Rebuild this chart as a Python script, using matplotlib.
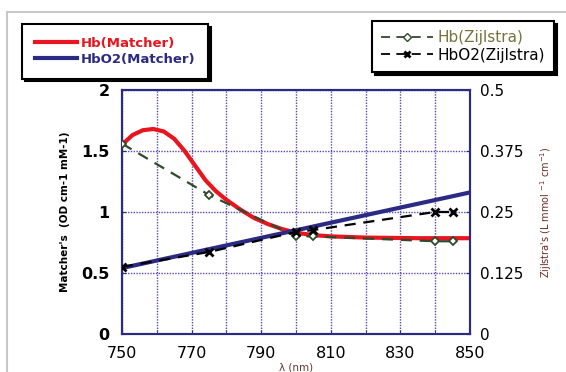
import matplotlib
matplotlib.use('Agg')
import matplotlib.pyplot as plt
from matplotlib.lines import Line2D

# Matcher curves (left axis, OD cm-1 mM-1)
wl_hb = [750, 753, 756, 759, 762, 765, 768, 771, 774, 777, 780, 784, 788, 792,
         796, 800, 805, 810, 820, 835, 850]
hb_matcher = [1.55, 1.63, 1.67, 1.68, 1.66, 1.60, 1.50, 1.38, 1.26, 1.17, 1.10,
              1.02, 0.95, 0.90, 0.86, 0.83, 0.81, 0.80, 0.79, 0.785, 0.785]
wl_hbo2 = [750, 800, 850]
hbo2_matcher = [0.54, 0.85, 1.16]

# Zijlstra points (right axis, L mmol-1 cm-1)
wl_zij = [750, 775, 800, 805, 840, 845]
hb_zij = [0.39, 0.285, 0.20, 0.20, 0.19, 0.19]
hbo2_zij = [0.1375, 0.168, 0.209, 0.213, 0.25, 0.25]

right_ticks = [0, 0.125, 0.25, 0.375, 0.5]
right_labels = ['0', '0.125', '0.25', '0.375', '0.5']

navy = '#2b2b85'
red = '#e8141e'
green = '#2f4a2c'
olive = '#74743c'

fig = plt.figure(figsize=(5.66, 3.72), dpi=100)
ax = fig.add_axes([0.2155, 0.1022, 0.6148, 0.656])
ax2 = ax.twinx()

ax.plot(wl_hb, hb_matcher, color=red, lw=3, solid_capstyle='butt', zorder=3)
ax.plot(wl_hbo2, hbo2_matcher, color=navy, lw=3, zorder=3)

ax2.plot(wl_zij, hb_zij, color=green, lw=1.6, ls=(0, (5, 3.5)), marker='D', ms=4,
         mfc='white', mec=green, mew=1.3, zorder=4)
ax2.plot(wl_zij, hbo2_zij, color='black', lw=1.6, ls=(0, (5, 3.5)), marker='x', ms=6,
         mew=2, zorder=4)

ax.set_xlim(750, 850)
ax.set_ylim(0, 2)
ax2.set_ylim(0, 0.5)
ax.set_xticks(range(750, 851, 20))
ax.set_xticks(range(750, 851, 10), minor=True)
ax.set_yticks([0, 0.5, 1, 1.5, 2])
ax.set_yticklabels(['0', '0.5', '1', '1.5', '2'])
ax2.set_yticks(right_ticks)
ax2.set_yticklabels(right_labels)

ax.grid(True, which='both', color='#5a48b0', ls=(0, (1, 1)), lw=1)
ax.set_axisbelow(True)
for a in (ax, ax2):
    for s in a.spines.values():
        s.set_color(navy)
        s.set_linewidth(1.5)
ax.tick_params(which='both', direction='in', length=3, color=navy)
ax.tick_params(axis='x', labelsize=11.5, pad=9)
ax.tick_params(axis='y', labelsize=11.5, pad=9)
ax2.tick_params(direction='in', length=3, color=navy, labelsize=11, pad=7)
for t in ax.get_yticklabels():
    t.set_fontweight('bold')

ax.set_xlabel('λ (nm)', fontsize=7.5, color='#6a3434', labelpad=1)
ax.set_ylabel("Matcher's  (OD cm-1 mM-1)", fontsize=7.5, fontweight='bold', labelpad=8)
ax2.set_ylabel("Zijlstra's (L mmol $^{-1}$ cm$^{-1}$)", fontsize=7, color='#6a2a2a',
               labelpad=11)

# legends
h1 = [Line2D([], [], color=red, lw=3), Line2D([], [], color=navy, lw=3)]
leg1 = fig.legend(h1, ['Hb(Matcher)', 'HbO2(Matcher)'], loc='upper left',
                  bbox_to_anchor=(0.039, 0.935), borderaxespad=0, fancybox=False,
                  shadow={'color': 'black', 'alpha': 1}, handlelength=3.2,
                  handletextpad=0.3, labelspacing=0.25, borderpad=0.95,
                  prop={'size': 9.5, 'weight': 'bold'})
leg1.get_frame().set_edgecolor('black')
leg1.get_frame().set_linewidth(1.5)
for t, c in zip(leg1.get_texts(), [red, navy]):
    t.set_color(c)

h2 = [Line2D([], [], color=green, lw=1.3, ls=(0, (5, 3.5)), marker='D', ms=4,
             mfc='white', mec=green),
      Line2D([], [], color='black', lw=1.3, ls=(0, (5, 3.5)), marker='x', ms=5, mew=2)]
leg2 = fig.legend(h2, ['Hb(Zijlstra)', 'HbO2(Zijlstra)'], loc='upper left',
                  bbox_to_anchor=(0.657, 0.943), borderaxespad=0, fancybox=False,
                  shadow={'color': 'black', 'alpha': 1}, handlelength=3.4,
                  handletextpad=0.3, labelspacing=0.15, borderpad=0.6,
                  prop={'size': 11})
leg2.get_frame().set_edgecolor('black')
leg2.get_frame().set_linewidth(1.5)
for t, c in zip(leg2.get_texts(), [olive, 'black']):
    t.set_color(c)

# light frame lines
fig.add_artist(Line2D([7 / 566, 1], [1 - 12 / 372, 1 - 12 / 372], color='#c8c8c8',
                      lw=1.5, transform=fig.transFigure))
fig.add_artist(Line2D([7 / 566, 7 / 566], [0, 1 - 12 / 372], color='#c8c8c8',
                      lw=1.5, transform=fig.transFigure))

fig.savefig('out.png', dpi=100)
